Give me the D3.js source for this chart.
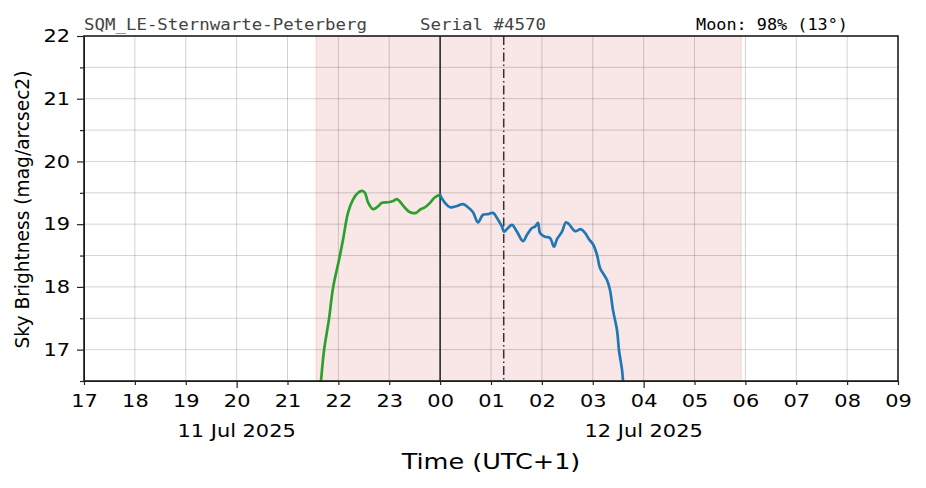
<!DOCTYPE html>
<html>
<head>
<meta charset="utf-8">
<script src="https://cdn.jsdelivr.net/npm/d3@7"></script>
<style>
  html, body { margin: 0; padding: 0; background: #fff; }
  svg { display: block; }
  text { font-family: "DejaVu Sans", sans-serif; }
  .mono { font-family: "DejaVu Sans Mono", monospace; }
</style>
</head>
<body>
<svg id="chart" width="926" height="488"></svg>
<script>
// ---- Data (hours since midnight of 11 Jul; >24 = 12 Jul) ----
const duskTimes = [21.62, 21.658, 21.717, 21.816, 21.894, 22.012, 22.091, 22.189, 22.287, 22.386, 22.464, 22.523, 22.582, 22.681, 22.759, 22.857, 22.975, 23.074, 23.152, 23.231, 23.310, 23.408, 23.526, 23.604, 23.703, 23.801, 23.899, 24.0];
const duskValues = [16.2, 16.5, 16.98, 17.49, 17.98, 18.43, 18.75, 19.18, 19.39, 19.50, 19.53, 19.50, 19.35, 19.24, 19.27, 19.34, 19.35, 19.37, 19.40, 19.34, 19.26, 19.19, 19.18, 19.23, 19.27, 19.34, 19.43, 19.47];

const nightTimes = [24.0, 24.096, 24.194, 24.332, 24.450, 24.548, 24.646, 24.744, 24.843, 24.941, 25.039, 25.118, 25.216, 25.256, 25.334, 25.413, 25.511, 25.629, 25.708, 25.806, 25.865, 25.924, 25.963, 26.061, 26.160, 26.238, 26.297, 26.396, 26.474, 26.533, 26.651, 26.769, 26.848, 26.926, 27.005, 27.084, 27.143, 27.201, 27.280, 27.339, 27.398, 27.477, 27.516, 27.575, 27.595, 27.63];
const nightValues = [19.46, 19.34, 19.27, 19.29, 19.32, 19.27, 19.19, 19.03, 19.15, 19.16, 19.18, 19.10, 18.96, 18.88, 18.94, 18.99, 18.88, 18.73, 18.83, 18.94, 18.96, 19.02, 18.86, 18.80, 18.78, 18.64, 18.76, 18.88, 19.03, 19.00, 18.89, 18.92, 18.86, 18.76, 18.68, 18.51, 18.30, 18.22, 18.11, 17.95, 17.63, 17.31, 16.99, 16.68, 16.50, 16.2];

const xDomain = [17, 33];
const yDomain = [16.5, 22];
const xTickValues = d3.range(17, 34, 1);
const xMajorTicks = [20, 28];
const dateLabels = ["11 Jul 2025", "12 Jul 2025"];
const yMajorTicks = [17, 18, 19, 20, 21, 22];
const yMinorTicks = [16.5, 17.5, 18.5, 19.5, 20.5, 21.5];
const nightBand = [21.565, 29.914];   // astronomical night (shaded)
const midnight = 24.0;
const moonTransit = 25.25;            // dash-dot marker
const headerTexts = ["SQM_LE-Sternwarte-Peterberg", "Serial #4570", "Moon: 98% (13°)"];
const xLabel = "Time (UTC+1)";
const yLabel = "Sky Brightness (mag/arcsec2)";

// ---- Layout ----
const M = {left: 84, right: 898, top: 36, bottom: 381};
const SX = 1.16; // horizontal glyph stretch of the reference rendering
const svg = d3.select("#chart");
const x = d3.scaleLinear().domain(xDomain).range([M.left, M.right]);
const y = d3.scaleLinear().domain(yDomain).range([M.bottom, M.top]);

function stretch(sel, k) {
  sel.each(function () {
    const w = this.getComputedTextLength();
    if (w > 0) d3.select(this).attr("textLength", w * k).attr("lengthAdjust", "spacingAndGlyphs");
  });
}

svg.append("defs").append("clipPath").attr("id", "clip")
  .append("rect").attr("x", M.left).attr("y", M.top)
  .attr("width", M.right - M.left).attr("height", M.bottom - M.top);

// shaded night band
svg.append("rect")
  .attr("x", x(nightBand[0])).attr("y", M.top)
  .attr("width", x(nightBand[1]) - x(nightBand[0]))
  .attr("height", M.bottom - M.top)
  .attr("fill", "rgb(249,230,230)")
  .attr("stroke", "rgb(245,205,205)").attr("stroke-width", 1);

// grid
const grid = svg.append("g");
grid.selectAll(".gx").data(xTickValues).join("line")
  .attr("x1", d => x(d)).attr("x2", d => x(d))
  .attr("y1", M.top).attr("y2", M.bottom)
  .attr("stroke", "#000").attr("stroke-opacity", 0.22).attr("stroke-width", 0.8);
grid.selectAll(".gy").data(yMajorTicks.concat(yMinorTicks)).join("line")
  .attr("x1", M.left).attr("x2", M.right)
  .attr("y1", d => y(d)).attr("y2", d => y(d))
  .attr("stroke", "#000").attr("stroke-opacity", 0.22).attr("stroke-width", 0.8);

// vertical markers
svg.append("line")
  .attr("x1", x(midnight)).attr("x2", x(midnight))
  .attr("y1", M.top).attr("y2", M.bottom)
  .attr("stroke", "#222").attr("stroke-width", 1.5);
svg.append("line")
  .attr("x1", x(moonTransit)).attr("x2", x(moonTransit))
  .attr("y1", M.top).attr("y2", M.bottom)
  .attr("stroke", "#333").attr("stroke-width", 1.5)
  .attr("stroke-dasharray", "9,3,1.5,3");

// lines
const line = d3.line().x(d => x(d[0])).y(d => y(d[1])).curve(d3.curveCatmullRom.alpha(0.5));
const plot = svg.append("g").attr("clip-path", "url(#clip)");
plot.append("path").datum(d3.zip(duskTimes, duskValues))
  .attr("d", line).attr("fill", "none")
  .attr("stroke", "#2ca02c").attr("stroke-width", 2.7)
  .attr("stroke-linejoin", "round").attr("stroke-linecap", "round");
plot.append("path").datum(d3.zip(nightTimes, nightValues))
  .attr("d", line).attr("fill", "none")
  .attr("stroke", "#1f77b4").attr("stroke-width", 2.7)
  .attr("stroke-linejoin", "round").attr("stroke-linecap", "round");

// axes
const fmtHour = d => String(d % 24).padStart(2, "0");
const xAxis = svg.append("g").attr("transform", `translate(0,${M.bottom})`)
  .call(d3.axisBottom(x).tickValues(xTickValues).tickFormat(fmtHour)
    .tickSizeInner(4).tickSizeOuter(0).tickPadding(9));
xAxis.selectAll(".tick line").attr("y2", d => xMajorTicks.includes(d) ? 7 : 4);
const yAxis = svg.append("g").attr("transform", `translate(${M.left},0)`)
  .call(d3.axisLeft(y).tickValues(yMajorTicks).tickFormat(d3.format("d"))
    .tickSizeInner(7).tickSizeOuter(0).tickPadding(7));
svg.append("g").attr("transform", `translate(${M.left},0)`)
  .call(d3.axisLeft(y).tickValues(yMinorTicks).tickFormat("").tickSizeInner(4).tickSizeOuter(0))
  .select(".domain").remove();
svg.selectAll(".tick text").attr("font-size", 18).attr("fill", "#000")
  .attr("font-family", "DejaVu Sans");
stretch(svg.selectAll(".tick text"), SX);
svg.selectAll(".tick line").attr("stroke", "#222").attr("stroke-width", 1.2);

// frame
svg.append("rect").attr("x", M.left).attr("y", M.top)
  .attr("width", M.right - M.left).attr("height", M.bottom - M.top)
  .attr("fill", "none").attr("stroke", "#222").attr("stroke-width", 1.6);

// date labels
xMajorTicks.forEach((t, i) => {
  svg.append("text").attr("class", "hz").attr("x", x(t)).attr("y", 437)
    .attr("text-anchor", "middle").attr("font-size", 18).text(dateLabels[i]);
});

// axis labels
svg.append("text").attr("class", "hz").attr("x", 491).attr("y", 469)
  .attr("text-anchor", "middle").attr("font-size", 22).text(xLabel);
svg.append("text").attr("transform", `translate(29,${(M.top + M.bottom) / 2 + 1}) rotate(-90)`)
  .attr("text-anchor", "middle").attr("font-size", 18.6).text(yLabel);
stretch(svg.selectAll("text.hz"), SX);

// header
const hdr = [[M.left, 283, "#444"], [420, 126, "#444"], [696, 152, "#000"]];
headerTexts.forEach((t, i) => {
  svg.append("text").attr("class", "mono").attr("x", hdr[i][0]).attr("y", 30)
    .attr("font-size", 15.5).attr("fill", hdr[i][2])
    .attr("textLength", hdr[i][1]).attr("lengthAdjust", "spacingAndGlyphs").text(t);
});
</script>
</body>
</html>
